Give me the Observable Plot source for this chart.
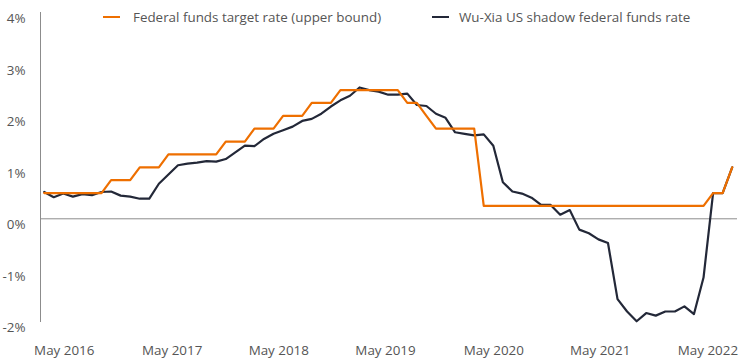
<!DOCTYPE html>
<html>
<head>
<meta charset="utf-8">
<script src="https://cdn.jsdelivr.net/npm/d3@7"></script>
<script src="https://cdn.jsdelivr.net/npm/@observablehq/plot@0.6"></script>
<style>
  html, body { margin: 0; padding: 0; background: #fff; }
  #wrap { position: relative; width: 740px; height: 364px; font-family: "Open Sans", sans-serif; }
  #legend { position: absolute; top: 8px; left: 0; width: 740px; height: 18px; font-size: 13.4px; line-height: 18px; color: #555; }
  .item { position: absolute; top: 0; white-space: nowrap; display: flex; align-items: center; }
  .sw { display: inline-block; width: 17px; height: 2px; }
</style>
</head>
<body>
<div id="wrap">
  <div id="chart"></div>
  <div id="legend"></div>
</div>
<script>
// Monthly observations, May 2016 (index 0) to May 2022 (index 72)
const monthIndex = d3.range(73);

const fedTarget = [
  0.5, 0.5, 0.5, 0.5, 0.5, 0.5, 0.5,
  0.75, 0.75, 0.75,
  1.0, 1.0, 1.0,
  1.25, 1.25, 1.25, 1.25, 1.25, 1.25,
  1.5, 1.5, 1.5,
  1.75, 1.75, 1.75,
  2.0, 2.0, 2.0,
  2.25, 2.25, 2.25,
  2.5, 2.5, 2.5, 2.5, 2.5, 2.5, 2.5,
  2.25, 2.25,
  2.0,
  1.75, 1.75, 1.75, 1.75, 1.75,
  0.25, 0.25, 0.25, 0.25, 0.25, 0.25, 0.25, 0.25, 0.25, 0.25, 0.25, 0.25,
  0.25, 0.25, 0.25, 0.25, 0.25, 0.25, 0.25, 0.25, 0.25, 0.25, 0.25, 0.25,
  0.5, 0.5,
  1.0
];

const shadowRate = [
  0.52, 0.42, 0.49, 0.43, 0.48, 0.46, 0.52, 0.53, 0.45, 0.43, 0.39, 0.39,
  0.68, 0.86, 1.04, 1.07, 1.09, 1.12, 1.11, 1.16, 1.29, 1.42, 1.41, 1.55,
  1.65, 1.72, 1.79, 1.90, 1.94, 2.04, 2.18, 2.30, 2.39, 2.55, 2.50, 2.47,
  2.41, 2.41, 2.43, 2.21, 2.19, 2.04, 1.96, 1.68, 1.65, 1.62, 1.64, 1.42,
  0.71, 0.53, 0.49, 0.41, 0.27, 0.27, 0.08, 0.17, -0.21, -0.28, -0.40, -0.47,
  -1.56, -1.80, -1.99, -1.83, -1.88, -1.80, -1.80, -1.70, -1.85, -1.14, 0.50, 0.50,
  1.0
];

const xTickLabels = ["May 2016", "May 2017", "May 2018", "May 2019", "May 2020", "May 2021", "May 2022"];
const xTickAt = [2.10, 13.39, 24.55, 35.72, 47.05, 58.18, 69.46];
const yTicks = [-2, -1, 0, 1, 2, 3, 4];

const seriesNames = ["Federal funds target rate (upper bound)", "Wu-Xia US shadow federal funds rate"];
const seriesColors = ["#ee6f00", "#232838"];

const rows = monthIndex.map(i => ({i, fed: fedTarget[i], shadow: shadowRate[i]}));
const labelAt = new Map(xTickAt.map((p, k) => [p, xTickLabels[k]]));

const chart = Plot.plot({
  width: 740,
  height: 364,
  marginLeft: 40,
  marginRight: 3,
  marginTop: 12,
  marginBottom: 43,
  x: {domain: [0, 72], range: [43.7, 731.7]},
  y: {domain: [-2, 4], range: [321.3, 12.3]},
  style: {fontFamily: "'Open Sans', sans-serif", fontSize: "13.4px", color: "#555", background: "#fff"},
  marks: [
    Plot.ruleY([0], {stroke: "#8c8c8c", strokeWidth: 1}),
    Plot.frame({anchor: "left", stroke: "#8c8c8c", strokeWidth: 1}),
    Plot.axisY({ticks: yTicks, tickSize: 0, tickPadding: 15, dy: 6, tickFormat: d => `${d}%`, label: null, fill: "#555"}),
    Plot.axisX({ticks: xTickAt, tickSize: 0, tickPadding: 24, tickFormat: d => labelAt.get(d), label: null, fill: "#555"}),
    Plot.line(rows, {x: "i", y: "shadow", stroke: seriesColors[1], strokeWidth: 2.2}),
    Plot.line(rows, {x: "i", y: "fed", stroke: seriesColors[0], strokeWidth: 2.2})
  ]
});
document.getElementById("chart").appendChild(chart);

const legendLeft = [103, 432];
const gaps = [13, 10];
const legend = document.getElementById("legend");
seriesNames.forEach((name, k) => {
  const item = document.createElement("div");
  item.className = "item";
  item.style.left = legendLeft[k] + "px";
  const sw = document.createElement("span");
  sw.className = "sw";
  sw.style.background = seriesColors[k];
  sw.style.marginRight = gaps[k] + "px";
  const t = document.createElement("span");
  t.textContent = name;
  item.appendChild(sw);
  item.appendChild(t);
  legend.appendChild(item);
});
</script>
</body>
</html>
